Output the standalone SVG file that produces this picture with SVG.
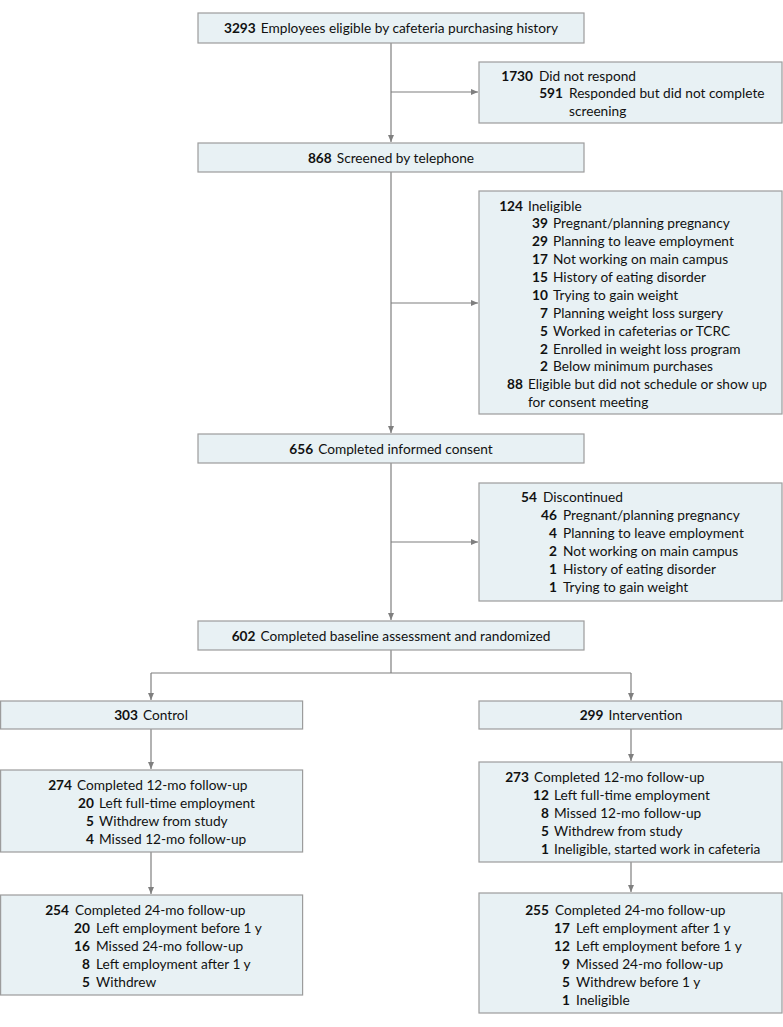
<svg xmlns="http://www.w3.org/2000/svg" width="783" height="1027" viewBox="0 0 783 1027">
<style>
.box{fill:#e8f1f4;stroke:#9c9c9c;stroke-width:1.2}
text{font-family:Lato,"Noto Sans",sans-serif;font-size:13.7px;fill:#111}
.n{font-weight:bold}
.e{text-anchor:end;font-weight:bold}
.c{text-anchor:middle}
.ln{fill:none;stroke:#7f7f7f;stroke-width:1.2}
</style>
<defs>
<marker id="ah" markerUnits="userSpaceOnUse" markerWidth="8" markerHeight="6" refX="7" refY="3" orient="auto">
<path d="M0,0 L7,3 L0,6 z" fill="#7f7f7f"/>
</marker>
</defs>
<rect width="783" height="1027" fill="#fff"/>
<g id="connectors">
<path class="ln" d="M391,43 V142" marker-end="url(#ah)"/>
<path class="ln" d="M391,92 H478" marker-end="url(#ah)"/>
<path class="ln" d="M391,172 V433" marker-end="url(#ah)"/>
<path class="ln" d="M391,303 H478" marker-end="url(#ah)"/>
<path class="ln" d="M391,463 V620" marker-end="url(#ah)"/>
<path class="ln" d="M391,542 H478" marker-end="url(#ah)"/>
<path class="ln" d="M391,650 V673 M151,673 H631"/>
<path class="ln" d="M151,673 V700" marker-end="url(#ah)"/>
<path class="ln" d="M631,673 V700" marker-end="url(#ah)"/>
<path class="ln" d="M151,729 V769" marker-end="url(#ah)"/>
<path class="ln" d="M631,729 V761" marker-end="url(#ah)"/>
<path class="ln" d="M151,852 V894" marker-end="url(#ah)"/>
<path class="ln" d="M631,862 V892" marker-end="url(#ah)"/>
</g>
<g id="eligible">
<rect class="box" x="198" y="13" width="386" height="30"/>
<text class="c" x="391" y="33"><tspan class="n">3293</tspan><tspan dx="5">Employees eligible by cafeteria purchasing history</tspan></text>
</g>
<g id="excluded1">
<rect class="box" x="479" y="62" width="303" height="61"/>
<text class="e" x="533" y="80.8">1730</text><text x="539" y="80.8">Did not respond</text>
<text class="e" x="563" y="98.3">591</text><text x="569" y="98.3">Responded but did not complete</text>
<text x="569" y="115.8">screening</text>
</g>
<g id="screened">
<rect class="box" x="198" y="143" width="386" height="29"/>
<text class="c" x="391" y="162.5"><tspan class="n">868</tspan><tspan dx="5">Screened by telephone</tspan></text>
</g>
<g id="excluded2">
<rect class="box" x="479" y="191" width="303" height="223"/>
<text class="e" x="523" y="210.5">124</text><text x="528" y="210.5">Ineligible</text>
<text class="e" x="548" y="228.4">39</text><text x="553" y="228.4">Pregnant/planning pregnancy</text>
<text class="e" x="548" y="246.3">29</text><text x="553" y="246.3">Planning to leave employment</text>
<text class="e" x="548" y="264.1">17</text><text x="553" y="264.1">Not working on main campus</text>
<text class="e" x="548" y="282">15</text><text x="553" y="282">History of eating disorder</text>
<text class="e" x="548" y="299.9">10</text><text x="553" y="299.9">Trying to gain weight</text>
<text class="e" x="548" y="317.8">7</text><text x="553" y="317.8">Planning weight loss surgery</text>
<text class="e" x="548" y="335.7">5</text><text x="553" y="335.7">Worked in cafeterias or TCRC</text>
<text class="e" x="548" y="353.5">2</text><text x="553" y="353.5">Enrolled in weight loss program</text>
<text class="e" x="548" y="371.4">2</text><text x="553" y="371.4">Below minimum purchases</text>
<text class="e" x="523" y="389.3">88</text><text x="528" y="389.3">Eligible but did not schedule or show up</text>
<text x="528" y="407.2">for consent meeting</text>
</g>
<g id="consent">
<rect class="box" x="198" y="434" width="386" height="29"/>
<text class="c" x="391" y="453.5"><tspan class="n">656</tspan><tspan dx="5">Completed informed consent</tspan></text>
</g>
<g id="excluded3">
<rect class="box" x="479" y="483" width="303" height="118"/>
<text class="e" x="537" y="502">54</text><text x="543" y="502">Discontinued</text>
<text class="e" x="557" y="519.9">46</text><text x="563" y="519.9">Pregnant/planning pregnancy</text>
<text class="e" x="557" y="537.8">4</text><text x="563" y="537.8">Planning to leave employment</text>
<text class="e" x="557" y="555.7">2</text><text x="563" y="555.7">Not working on main campus</text>
<text class="e" x="557" y="573.6">1</text><text x="563" y="573.6">History of eating disorder</text>
<text class="e" x="557" y="591.5">1</text><text x="563" y="591.5">Trying to gain weight</text>
</g>
<g id="randomized">
<rect class="box" x="198" y="621" width="386" height="29"/>
<text class="c" x="391" y="640.5"><tspan class="n">602</tspan><tspan dx="5">Completed baseline assessment and randomized</tspan></text>
</g>
<g id="control">
<rect class="box" x="0.6" y="701" width="302" height="28"/>
<text class="c" x="151" y="720"><tspan class="n">303</tspan><tspan dx="5">Control</tspan></text>
</g>
<g id="intervention">
<rect class="box" x="479" y="701" width="303" height="28"/>
<text class="c" x="631" y="720"><tspan class="n">299</tspan><tspan dx="5">Intervention</tspan></text>
</g>
<g id="control12">
<rect class="box" x="0.6" y="770" width="302" height="82"/>
<text class="e" x="72" y="789.8">274</text><text x="77" y="789.8">Completed 12-mo follow-up</text>
<text class="e" x="94" y="807.8">20</text><text x="99" y="807.8">Left full-time employment</text>
<text class="e" x="94" y="825.8">5</text><text x="99" y="825.8">Withdrew from study</text>
<text class="e" x="94" y="843.8">4</text><text x="99" y="843.8">Missed 12-mo follow-up</text>
</g>
<g id="intervention12">
<rect class="box" x="479" y="762" width="303" height="100"/>
<text class="e" x="529" y="781.8">273</text><text x="534" y="781.8">Completed 12-mo follow-up</text>
<text class="e" x="549" y="799.8">12</text><text x="554" y="799.8">Left full-time employment</text>
<text class="e" x="549" y="817.8">8</text><text x="554" y="817.8">Missed 12-mo follow-up</text>
<text class="e" x="549" y="835.8">5</text><text x="554" y="835.8">Withdrew from study</text>
<text class="e" x="549" y="853.8">1</text><text x="554" y="853.8">Ineligible, started work in cafeteria</text>
</g>
<g id="control24">
<rect class="box" x="0.6" y="895" width="302" height="100"/>
<text class="e" x="69" y="914.8">254</text><text x="75" y="914.8">Completed 24-mo follow-up</text>
<text class="e" x="90" y="932.8">20</text><text x="96" y="932.8">Left employment before 1 y</text>
<text class="e" x="90" y="950.8">16</text><text x="96" y="950.8">Missed 24-mo follow-up</text>
<text class="e" x="90" y="968.8">8</text><text x="96" y="968.8">Left employment after 1 y</text>
<text class="e" x="90" y="986.8">5</text><text x="96" y="986.8">Withdrew</text>
</g>
<g id="intervention24">
<rect class="box" x="479" y="893" width="303" height="120"/>
<text class="e" x="549" y="914.8">255</text><text x="555" y="914.8">Completed 24-mo follow-up</text>
<text class="e" x="570" y="932.8">17</text><text x="576" y="932.8">Left employment after 1 y</text>
<text class="e" x="570" y="950.8">12</text><text x="576" y="950.8">Left employment before 1 y</text>
<text class="e" x="570" y="968.8">9</text><text x="576" y="968.8">Missed 24-mo follow-up</text>
<text class="e" x="570" y="986.8">5</text><text x="576" y="986.8">Withdrew before 1 y</text>
<text class="e" x="570" y="1004.8">1</text><text x="576" y="1004.8">Ineligible</text>
</g>
</svg>
